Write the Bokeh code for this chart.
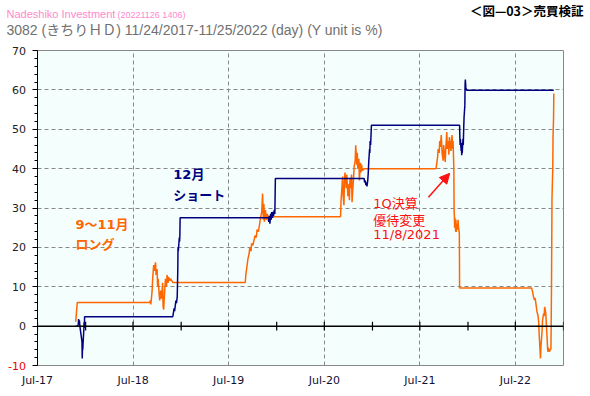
import pandas as pd
from bokeh.plotting import figure
from bokeh.layouts import column, row
from bokeh.models import (Range1d, FixedTicker, Label, Span, Arrow, NormalHead,
                          ColumnDataSource)
from bokeh.core.properties import value
from bokeh.embed import file_html
from bokeh.resources import INLINE

# ---- data: cumulative return (%) of the two strategies ----
long_dates = [
    "2017-11-24", "2017-11-27", "2017-11-28", "2017-11-29", "2017-11-30",
    "2018-09-03", "2018-09-05", "2018-09-07", "2018-09-10", "2018-09-12", "2018-09-14",
    "2018-09-18", "2018-09-20", "2018-09-25", "2018-09-27", "2018-10-01", "2018-10-03",
    "2018-10-05", "2018-10-09", "2018-10-11", "2018-10-15", "2018-10-18", "2018-10-22",
    "2018-10-24", "2018-10-26", "2018-10-30", "2018-11-02", "2018-11-06", "2018-11-08",
    "2018-11-12", "2018-11-14", "2018-11-19", "2018-11-22", "2018-11-30",
    "2019-09-03", "2019-09-05", "2019-09-10", "2019-09-13", "2019-09-18", "2019-09-20",
    "2019-09-25", "2019-09-27", "2019-10-02", "2019-10-07", "2019-10-10", "2019-10-15",
    "2019-10-18", "2019-10-23", "2019-10-28", "2019-10-31", "2019-11-05", "2019-11-08",
    "2019-11-11", "2019-11-13", "2019-11-15", "2019-11-19", "2019-11-22", "2019-11-26",
    "2019-11-29",
    "2020-09-01", "2020-09-03", "2020-09-07", "2020-09-09", "2020-09-11", "2020-09-14",
    "2020-09-16", "2020-09-18", "2020-09-23", "2020-09-25", "2020-09-29", "2020-10-01",
    "2020-10-05", "2020-10-07", "2020-10-09", "2020-10-13", "2020-10-15", "2020-10-19",
    "2020-10-21", "2020-10-23", "2020-10-27", "2020-10-29", "2020-11-02", "2020-11-04",
    "2020-11-06", "2020-11-10", "2020-11-12", "2020-11-16", "2020-11-18", "2020-11-20",
    "2020-11-24", "2020-11-30",
    "2021-09-01", "2021-09-03", "2021-09-07", "2021-09-09", "2021-09-13", "2021-09-15",
    "2021-09-17", "2021-09-21", "2021-09-24", "2021-09-28", "2021-09-30", "2021-10-04",
    "2021-10-06", "2021-10-08", "2021-10-12", "2021-10-14", "2021-10-18", "2021-10-20",
    "2021-10-22", "2021-10-26", "2021-10-28", "2021-11-01", "2021-11-04", "2021-11-05",
    "2021-11-08", "2021-11-09", "2021-11-10", "2021-11-11", "2021-11-12", "2021-11-15",
    "2021-11-16", "2021-11-17", "2021-11-19", "2021-11-22", "2021-11-24", "2021-11-26",
    "2021-11-29", "2021-11-30",
    "2022-09-01", "2022-09-05", "2022-09-08", "2022-09-12", "2022-09-14", "2022-09-16",
    "2022-09-20", "2022-09-22", "2022-09-26", "2022-09-28", "2022-09-30", "2022-10-03",
    "2022-10-05", "2022-10-07", "2022-10-11", "2022-10-13", "2022-10-17", "2022-10-19",
    "2022-10-21", "2022-10-25", "2022-10-27", "2022-10-31", "2022-11-02", "2022-11-04",
    "2022-11-08", "2022-11-10", "2022-11-14", "2022-11-15", "2022-11-16", "2022-11-17",
    "2022-11-18", "2022-11-21", "2022-11-22", "2022-11-24", "2022-11-25",
]
long_values = [
    1.1, 3.5, 4.5, 5.2, 6.0,
    6.0, 6.5, 5.5, 7.5, 9.0, 12.0,
    15.5, 14.0, 16.2, 13.0, 14.5, 10.0,
    12.0, 8.0, 6.5, 9.0, 7.0, 11.0,
    5.0, 4.2, 9.0, 12.0, 10.0, 13.0,
    11.0, 12.5, 11.5, 12.0, 11.1,
    11.1, 13.0, 15.5, 17.0, 18.5, 20.0,
    19.0, 21.0, 20.5, 22.0, 23.0, 22.5,
    24.5, 24.0, 26.0, 27.5, 29.0, 33.7,
    27.0, 31.0, 26.5, 29.5, 27.0, 28.5,
    27.8,
    27.8, 32.0, 36.0, 38.0, 33.0, 30.7,
    37.0, 39.0, 35.0, 38.5, 33.0, 36.0,
    32.0, 37.5, 35.0, 38.5, 31.5, 36.0,
    38.0, 40.5, 42.0, 45.9, 41.0, 44.0,
    40.0, 42.5, 37.0, 41.5, 39.0, 41.0,
    39.5, 40.0,
    40.0, 41.0, 43.0, 45.0, 44.0, 47.0,
    45.5, 48.5, 44.0, 42.0, 46.0, 43.0,
    41.7, 45.0, 49.3, 45.0, 47.0, 43.5,
    48.0, 46.0, 44.5, 48.5, 45.0, 47.0,
    40.0, 29.4, 28.0, 25.0, 27.5, 24.0,
    27.0, 23.9, 26.0, 24.5, 27.0, 25.0,
    23.5, 9.7,
    9.7, 8.7, 7.5, 6.6, 7.2, 6.5,
    4.5, 3.6, 2.5, 1.1, -2.0, -5.7,
    -8.2, -5.0, -1.4, 1.5, 3.2, 2.5,
    4.9, 3.5, 1.1, -4.0, -6.5, -5.5,
    -6.5, -6.1, -5.8, 1.0, 9.1, 20.0,
    32.4, 40.0, 48.1, 52.7, 59.1,
]

short_dates = [
    "2017-11-24", "2017-12-01", "2017-12-04", "2017-12-05", "2017-12-06", "2017-12-08",
    "2017-12-11", "2017-12-13", "2017-12-15", "2017-12-18", "2017-12-19", "2017-12-20",
    "2017-12-21", "2017-12-22", "2017-12-25", "2017-12-26", "2017-12-27", "2017-12-28",
    "2018-11-30", "2018-12-03", "2018-12-05", "2018-12-07", "2018-12-10", "2018-12-12",
    "2018-12-14", "2018-12-17", "2018-12-19", "2018-12-20", "2018-12-21", "2018-12-25",
    "2018-12-26", "2018-12-27", "2018-12-28",
    "2019-11-29", "2019-12-02", "2019-12-04", "2019-12-06", "2019-12-09", "2019-12-11",
    "2019-12-13", "2019-12-16", "2019-12-18", "2019-12-20", "2019-12-23", "2019-12-25",
    "2019-12-27",
    "2020-11-30", "2020-12-02", "2020-12-04", "2020-12-07", "2020-12-09", "2020-12-11",
    "2020-12-14", "2020-12-16", "2020-12-18", "2020-12-21", "2020-12-22", "2020-12-23",
    "2020-12-25", "2020-12-28",
    "2021-11-30", "2021-12-01", "2021-12-02", "2021-12-03", "2021-12-06", "2021-12-07",
    "2021-12-08", "2021-12-09", "2021-12-10", "2021-12-13", "2021-12-14", "2021-12-15",
    "2021-12-16", "2021-12-17", "2021-12-20", "2021-12-21", "2021-12-22", "2021-12-23",
    "2021-12-24", "2021-12-27",
    "2022-11-25",
]
short_values = [
    0.0, 0.0, 0.5, 1.8, 0.5, 1.5,
    -0.5, -1.5, -2.5, -4.0, -8.2, -5.0,
    -6.0, -4.5, -1.0, 1.0, -0.5, 2.4,
    2.4, 3.6, 4.5, 3.8, 5.5, 6.5,
    5.8, 7.5, 14.0, 20.0, 19.0, 22.5,
    21.5, 23.0, 27.5,
    27.5, 26.5, 28.0, 26.0, 28.5, 27.0,
    29.0, 27.5, 29.0, 28.0, 29.5, 28.5,
    37.5,
    37.5, 36.5, 37.0, 35.8, 36.5, 35.5,
    37.0, 39.0, 42.0, 45.0, 44.0, 47.0,
    46.0, 51.0,
    51.0, 48.0, 46.0, 47.5, 44.5, 46.5,
    43.4, 45.0, 44.0, 47.6, 46.0, 48.5,
    51.0, 53.0, 56.0, 61.6, 62.6, 61.5,
    60.5, 59.9,
    59.9,
]

x_label_dates = ["2017-07-01", "2018-07-01", "2019-07-01", "2020-07-01",
                 "2021-07-01", "2022-07-01"]
x_tick_labels = ["Jul-17", "Jul-18", "Jul-19", "Jul-20", "Jul-21", "Jul-22"]
half_year_dates = ["2017-07-01", "2018-01-01", "2018-07-01", "2019-01-01", "2019-07-01",
                   "2020-01-01", "2020-07-01", "2021-01-01", "2021-07-01", "2022-01-01",
                   "2022-07-01", "2023-01-01"]
y_ticks = [-10, 0, 10, 20, 30, 40, 50, 60, 70]
y_tick_labels = ["-10", "0", "10", "20", "30", "40", "50", "60", "70"]
y_tick_colors = ["#ee0000", "#222222", "#222222", "#222222", "#222222", "#222222",
                 "#222222", "#222222", "#222222"]
y_minor = list(range(-10, 71, 2))

title_site = "Nadeshiko Investment"
title_stamp = "(20221126 1406)"
title_fig = "＜図—03＞売買検証"
title_sub = "3082 (きちりＨＤ) 11/24/2017-11/25/2022 (day)  (Y unit is %)"


def ms(d):
    return pd.Timestamp(d).value / 1e6


LAT = "'DejaVu Sans', 'Noto Sans CJK JP'"
JP = "'Noto Sans CJK JP'"
W = 586
STRIP = 30
H = 330
B_TOP, B_BOT, B_LEFT, B_RIGHT = 8, 7, 7, 23
Y0, Y1 = -10, 70
X0, X1 = ms("2017-07-01"), ms("2023-01-01")

# ---------------- header (titles) ----------------
head = figure(width=W, height=42, x_range=Range1d(0, W), y_range=Range1d(42, 0),
              x_axis_location=None, y_axis_location=None, output_backend="svg",
              toolbar_location=None, min_border=0)
head.frame_align = False
head.title.visible = False
head.grid.visible = False
head.outline_line_color = None
head.background_fill_color = "white"
head.add_layout(Label(x=6, y=19, text=title_site, text_font="'Liberation Sans'",
                      text_font_size="11px", text_color="#ff88cc"))
head.add_layout(Label(x=117, y=19, text=title_stamp, text_font="'Liberation Sans'",
                      text_font_size="9px", text_color="#ff88cc"))
head.add_layout(Label(x=583, y=19.5, text=title_fig, text_align="right", text_font=JP,
                      text_font_size="12.5px", text_font_style="bold", text_color="black"))
head.add_layout(Label(x=6, y=37.5, text=title_sub,
                      text_font="'Liberation Sans', 'Noto Sans CJK JP'",
                      text_font_size="14px", text_color="#707070"))

# ---------------- main chart ----------------
p = figure(width=W - STRIP, height=H, x_axis_type="datetime", output_backend="svg",
           toolbar_location=None, x_range=Range1d(X0, X1), y_range=Range1d(Y0, Y1),
           min_border_left=B_LEFT, min_border_right=B_RIGHT, min_border_top=B_TOP,
           min_border_bottom=B_BOT)
p.frame_align = False
p.title.visible = False
p.background_fill_color = "#f4fffd"
p.border_fill_color = "white"
p.outline_line_color = "#888888"
p.outline_line_width = 1

# x axis: labels are set in the strip below; keep only its ticker for the grid
p.xaxis.ticker = FixedTicker(ticks=[ms(d) for d in x_label_dates])
p.xaxis.visible = False

# y axis: line and ticks (its labels are set in the strip to the left)
p.yaxis.ticker = FixedTicker(ticks=y_ticks, minor_ticks=y_minor)
p.yaxis.major_label_overrides = {t: "" for t in y_ticks}
p.yaxis.major_label_standoff = 0
p.yaxis.axis_line_color = "black"
p.yaxis.major_tick_out = 5
p.yaxis.major_tick_in = 0
p.yaxis.minor_tick_out = 3
p.yaxis.minor_tick_in = 0

# grids
p.xgrid.ticker = FixedTicker(ticks=[ms(d) for d in x_label_dates[1:]])
p.ygrid.ticker = FixedTicker(ticks=[v for v in y_ticks if v not in (-10, 0, 70)])
for g in (p.xgrid, p.ygrid):
    g.grid_line_color = "#888888"
    g.grid_line_dash = "4 3"
    g.grid_line_width = 1

# zero line with half-year ticks
p.add_layout(Span(location=0, dimension="width", line_color="black", line_width=1.5))
hy = [ms(d) for d in half_year_dates]
p.segment(x0=hy, y0=-1.1, x1=hy, y1=1.1, line_color="black", line_width=1.2)

# series
src_long = ColumnDataSource(dict(x=pd.to_datetime(long_dates), y=long_values))
src_short = ColumnDataSource(dict(x=pd.to_datetime(short_dates), y=short_values))
p.line("x", "y", source=src_long, line_color="#ff6600", line_width=1.5)
p.line("x", "y", source=src_short, line_color="#000080", line_width=1.5)

# annotations
p.add_layout(Label(x=ms("2018-12-02"), y=36.5, text="12月", text_font=LAT,
                   text_font_size="13px", text_font_style="bold", text_color="#000080"))
p.add_layout(Label(x=ms("2018-12-02"), y=31.2, text="ショート", text_font=LAT,
                   text_font_size="13px", text_font_style="bold", text_color="#000080"))
p.add_layout(Label(x=ms("2017-11-23"), y=23.9, text="9～11月", text_font=LAT,
                   text_font_size="13px", text_font_style="bold", text_color="#ff6600"))
p.add_layout(Label(x=ms("2017-11-23"), y=18.8, text="ロング", text_font=LAT,
                   text_font_size="13px", text_font_style="bold", text_color="#ff6600"))
for txt, yv in (("1Q決算", 29.2), ("優待変更", 24.9), ("11/8/2021", 21.3)):
    p.add_layout(Label(x=ms("2021-01-04"), y=yv, text=txt, text_font=LAT,
                       text_font_size="13px", text_color="#ff1111"))
p.add_layout(Arrow(end=NormalHead(size=10, fill_color="#ff1111", line_color="#ff1111"),
                   x_start=ms("2021-08-03"), y_start=32.7, x_end=ms("2021-10-23"), y_end=38.8,
                   line_color="#ff1111", line_width=1.5))

# ---------------- y tick label strip (same vertical scale, frame = whole strip) ----------
py_unit = (H - B_TOP - B_BOT) / (Y1 - Y0)
strip = figure(width=STRIP, height=H, x_range=Range1d(0, STRIP),
               y_range=Range1d(Y0 - B_BOT / py_unit, Y1 + B_TOP / py_unit),
               x_axis_location=None, y_axis_location=None, output_backend="svg",
               toolbar_location=None, min_border=0)
strip.frame_align = False
strip.title.visible = False
strip.grid.visible = False
strip.outline_line_color = None
strip.background_fill_color = "white"
strip_src = ColumnDataSource(dict(y=y_ticks, text=y_tick_labels, color=y_tick_colors))
strip.text(x=25.5, y="y", text="text", text_color="color", source=strip_src,
           text_align="right", text_baseline="middle", text_font=value("DejaVu Sans"),
           text_font_size="11px")

# ---------------- x tick label strip (same horizontal scale, frame = whole strip) --------
BH = 22
px_unit = (W - STRIP - B_LEFT - B_RIGHT) / (X1 - X0)
bottom = figure(width=W, height=BH,
                x_range=Range1d(X0 - (STRIP + B_LEFT) / px_unit, X1 + B_RIGHT / px_unit),
                y_range=Range1d(BH, 0), x_axis_location=None, y_axis_location=None,
                output_backend="svg", toolbar_location=None, min_border=0)
bottom.frame_align = False
bottom.title.visible = False
bottom.grid.visible = False
bottom.outline_line_color = None
bottom.background_fill_color = "white"
bottom_src = ColumnDataSource(dict(x=[ms(d) for d in x_label_dates], text=x_tick_labels))
bottom.text(x="x", y=7.5, text="text", source=bottom_src, text_align="center",
            text_baseline="middle", text_font=value("DejaVu Sans"), text_font_size="11px",
            text_color="#111133")

layout = column(head, row(strip, p, spacing=0), bottom, spacing=0)
open("out.html", "w").write(file_html(layout, INLINE))
